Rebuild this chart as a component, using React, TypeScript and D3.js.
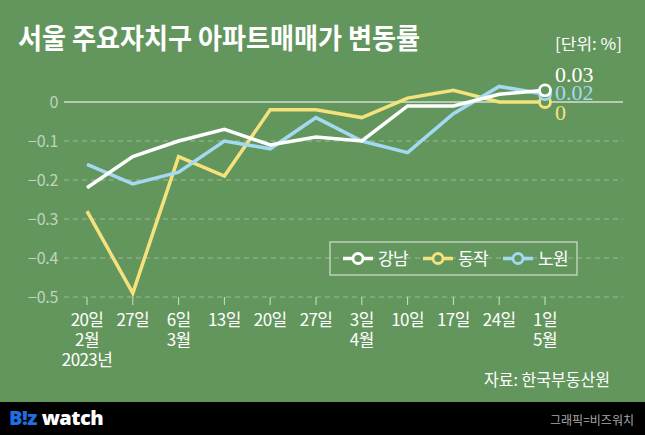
import React from "react";
import * as d3 from "d3";

const categories = ["20일", "27일", "6일", "13일", "20일", "27일", "3일", "10일", "17일", "24일", "1일"];
const monthLabels = ["2월", "", "3월", "", "", "", "4월", "", "", "", "5월"];
const yearLabels = ["2023년", "", "", "", "", "", "", "", "", "", ""];
const gangnam = [-0.22, -0.14, -0.10, -0.07, -0.11, -0.09, -0.10, -0.01, -0.01, 0.02, 0.03];
const dongjak = [-0.28, -0.49, -0.14, -0.19, -0.02, -0.02, -0.04, 0.01, 0.03, 0.0, 0.0];
const nowon = [-0.16, -0.21, -0.18, -0.10, -0.12, -0.04, -0.10, -0.13, -0.03, 0.04, 0.02];
const yTicks = [0, -0.1, -0.2, -0.3, -0.4, -0.5];
const seriesNames = ["강남", "동작", "노원"];
const endLabels = ["0.03", "0", "0.02"];

const BG = "#63965d";
const WHITE = "#ffffff";
const YELLOW = "#f5e27c";
const BLUE = "#a3d9f2";
const KFONT = "'Noto Sans CJK KR', 'Noto Sans', sans-serif";

export default function App() {
  const W = 645, H = 435;
  const x = d3.scalePoint<number>().domain(d3.range(categories.length)).range([87, 545]);
  const y = d3.scaleLinear().domain([-0.5, 0]).range([297, 102]);
  const line = d3.line<number>().x((_, i) => x(i)!).y((d) => y(d));

  const series = [
    { name: seriesNames[1], data: dongjak, color: YELLOW, label: endLabels[1], ly: 120 },
    { name: seriesNames[2], data: nowon, color: BLUE, label: endLabels[2], ly: 100 },
    { name: seriesNames[0], data: gangnam, color: WHITE, label: endLabels[0], ly: 82 },
  ];
  const legendItems = [
    { name: seriesNames[0], color: WHITE, x0: 343 },
    { name: seriesNames[1], color: YELLOW, x0: 423 },
    { name: seriesNames[2], color: BLUE, x0: 503 },
  ];

  return (
    <svg width={W} height={H} style={{ position: "absolute", left: 0, top: 0 }}>
      <rect x={0} y={0} width={W} height={H} fill={BG} />
      <text x={18} y={48.5} fill="#fff" fontFamily={KFONT} fontWeight={700} fontSize={28} textLength={402} lengthAdjust="spacingAndGlyphs">
        서울 주요자치구 아파트매매가 변동률
      </text>
      <text x={555} y={50} fill="#fff" fontFamily={KFONT} fontSize={16} textLength={67} lengthAdjust="spacingAndGlyphs">
        [단위: %]
      </text>

      {yTicks.map((t) => (
        <g key={t}>
          <line
            x1={64}
            x2={623}
            y1={y(t)}
            y2={y(t)}
            stroke={t === 0 ? "rgba(255,255,255,0.7)" : "rgba(255,255,255,0.35)"}
            strokeWidth={t === 0 ? 1.5 : 1}
            strokeDasharray={t === 0 ? undefined : "5,4"}
          />
          <text x={58} y={y(t) + 6} fill="rgba(255,255,255,0.6)" fontFamily={KFONT} fontSize={16} textAnchor="end" letterSpacing={-0.3}>
            {t === 0 ? "0" : "−" + Math.abs(t).toFixed(1)}
          </text>
        </g>
      ))}

      {categories.map((c, i) => (
        <g key={i}>
          <line x1={x(i)} x2={x(i)} y1={297} y2={305} stroke="rgba(255,255,255,0.7)" strokeWidth={1} />
          <text x={x(i)} y={326} fill="#fff" fontFamily={KFONT} fontSize={17} textAnchor="middle" letterSpacing={-0.6}>
            {c}
          </text>
          {monthLabels[i] && (
            <text x={x(i)} y={346} fill="#fff" fontFamily={KFONT} fontSize={17} textAnchor="middle" letterSpacing={-0.6}>
              {monthLabels[i]}
            </text>
          )}
          {yearLabels[i] && (
            <text x={x(i)} y={366} fill="#fff" fontFamily={KFONT} fontSize={17} textAnchor="middle" letterSpacing={-0.6}>
              {yearLabels[i]}
            </text>
          )}
        </g>
      ))}

      {series.map((s) => (
        <path key={s.name} d={line(s.data)!} fill="none" stroke={s.color} strokeWidth={3.5} strokeLinejoin="miter" />
      ))}
      {series.map((s) => {
        const n = s.data.length - 1;
        return (
          <g key={s.name + "c"}>
            <circle cx={x(n)} cy={y(s.data[n])} r={5.5} fill={BG} stroke={s.color} strokeWidth={2.8} />
          </g>
        );
      })}
      {series.map((s) => (
        <text key={s.name + "l"} x={555} y={s.ly} fill={s.color} fontFamily="'Liberation Serif', 'DejaVu Serif', serif" fontSize={22}>
          {s.label}
        </text>
      ))}

      <rect x={330} y={242} width={247} height={33} fill="none" stroke="rgba(255,255,255,0.7)" strokeWidth={1.2} />
      {legendItems.map((l) => (
        <g key={l.name}>
          <line x1={l.x0} x2={l.x0 + 30} y1={258.5} y2={258.5} stroke={l.color} strokeWidth={3.5} />
          <circle cx={l.x0 + 15} cy={258.5} r={5} fill={BG} stroke={l.color} strokeWidth={2.8} />
          <text x={l.x0 + 35} y={264.5} fill="#fff" fontFamily={KFONT} fontSize={17} letterSpacing={-0.6}>
            {l.name}
          </text>
        </g>
      ))}

      <text x={484} y={386} fill="#fff" fontFamily={KFONT} fontSize={16.5} textLength={126} lengthAdjust="spacingAndGlyphs">
        자료: 한국부동산원
      </text>

      <rect x={0} y={402} width={W} height={33} fill="#000" />
      <text x={9} y={425} fontFamily="'Noto Sans', 'DejaVu Sans', sans-serif" fontWeight={900} fontSize={20} letterSpacing={-0.5}>
        <tspan fill="#1f6fe0">B</tspan>
        <tspan fill="#1f6fe0">!</tspan>
        <tspan fill="#1f6fe0">z</tspan>
        <tspan fill="#fff"> watch</tspan>
      </text>
      <text x={550} y={424.5} fill="#a8a8a8" fontFamily={KFONT} fontSize={12.5} textLength={84} lengthAdjust="spacingAndGlyphs">
        그래픽=비즈워치
      </text>
    </svg>
  );
}
